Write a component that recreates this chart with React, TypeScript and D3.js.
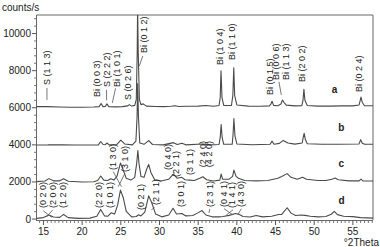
import * as d3 from 'd3';

// --- data ---
// diffractograms: [2theta, counts/s]
const curveA: [number, number][] = [
  [14.1, 6060], [15.5, 6060], [17, 6040], [18.5, 6030], [20, 6030], [21.5, 6040], [22.2, 6060], [22.45, 6230], [22.7, 6060],
  [23.0, 6070], [23.2, 6210], [23.45, 6060], [24.3, 6050], [25.2, 6060], [25.9, 6100], [26.1, 6170], [26.4, 6090], [26.8, 6130],
  [27.0, 6450], [27.12, 9000], [27.17, 11500], [27.25, 9000], [27.4, 6450], [27.6, 6170], [27.9, 6210], [28.3, 6090],
  [29.5, 6070], [30.5, 6060], [31.5, 6080], [32.0, 6110], [32.5, 6070], [33.5, 6080], [35, 6090], [36, 6120], [37, 6080],
  [37.7, 6120], [37.85, 6550], [37.95, 7990], [38.08, 6550], [38.3, 6130], [39.3, 6120], [39.48, 6650], [39.6, 8160],
  [39.72, 6650], [40.0, 6150], [41.5, 6090], [43, 6080], [44.2, 6100], [44.4, 6200], [44.55, 6350], [44.75, 6130],
  [45.3, 6110], [45.7, 6200], [45.9, 6420], [46.1, 6280], [46.4, 6140], [47.5, 6100], [48.4, 6110], [48.55, 6400],
  [48.67, 7000], [48.8, 6400], [49.1, 6120], [50.5, 6090], [52, 6090], [53.5, 6100], [55, 6100], [55.8, 6150],
  [55.95, 6400], [56.05, 6580], [56.2, 6300], [56.5, 6110], [57.6, 6110],
];
const curveB: [number, number][] = [
  [14.1, 3990], [15.6, 4000], [16, 4010], [17.5, 4000], [19, 3990], [21, 3990], [22.1, 4000], [22.4, 4180], [22.7, 4020],
  [23.0, 4010], [23.2, 4100], [23.5, 4000], [24.5, 4020], [25.0, 4250], [25.5, 4050], [26.5, 4000], [26.95, 4200],
  [27.1, 5500], [27.18, 7300], [27.28, 5500], [27.45, 4100], [28.0, 4030], [28.6, 4230], [29.1, 4020], [30.5, 4000],
  [31.8, 4120], [32.3, 4020], [32.9, 4090], [33.4, 4000], [35.5, 4050], [36.5, 4000], [37.7, 4020], [37.85, 4400],
  [37.97, 5100], [38.1, 4400], [38.3, 4030], [39.4, 4030], [39.5, 4500], [39.62, 5420], [39.75, 4500], [40, 4050],
  [42, 4010], [44.3, 4030], [44.55, 4200], [44.8, 4030], [45.5, 4080], [46, 4240], [46.6, 4100], [47.5, 4040],
  [48.45, 4100], [48.58, 4400], [48.7, 4620], [48.85, 4300], [49.1, 4060], [51, 4030], [53, 4030], [55.8, 4050],
  [56.0, 4280], [56.2, 4100], [56.5, 4030], [57.6, 4030],
];
const curveC: [number, number][] = [
  [14.1, 2020], [15.2, 2050], [15.7, 2180], [16.3, 2060], [17.1, 2060], [17.6, 2170], [18.2, 2040], [20, 2000],
  [21.5, 2010], [22.0, 2080], [22.4, 2320], [22.8, 2100], [23.3, 2080], [23.7, 2170], [24.1, 2100], [24.5, 2300],
  [24.95, 3020], [25.3, 2650], [25.7, 2200], [26.3, 2100], [26.8, 2250], [27.05, 3000], [27.2, 3700], [27.35, 3000],
  [27.6, 2300], [28.0, 2250], [28.35, 2700], [28.6, 2950], [28.9, 2500], [29.4, 2100], [30.2, 2050], [31.2, 2150],
  [31.8, 2420], [32.3, 2200], [32.9, 2250], [33.3, 2120], [33.9, 2100], [34.5, 2080], [35.2, 2200], [35.6, 2280],
  [36.1, 2120], [37, 2050], [37.8, 2100], [37.97, 2430], [38.15, 2150], [39.0, 2150], [39.45, 2300], [39.62, 2640],
  [39.9, 2300], [40.2, 2200], [41, 2080], [42.5, 2060], [44, 2080], [45.3, 2200], [45.8, 2300], [46.5, 2450],
  [47, 2250], [47.8, 2150], [48.5, 2260], [49, 2150], [50.5, 2080], [51.5, 2080], [52.3, 2150], [52.7, 2210],
  [53.1, 2120], [54.5, 2060], [55.8, 2060], [56.05, 2150], [56.3, 2060], [57.6, 2050],
];
const curveD: [number, number][] = [
  [14.1, 40], [15.0, 80], [15.7, 220], [16.3, 110], [17.1, 90], [17.6, 250], [18.2, 80], [19.5, 40], [21, 50],
  [21.9, 150], [22.4, 520], [22.9, 170], [23.3, 150], [23.75, 340], [24.2, 270], [24.6, 780], [24.95, 1560], [25.3, 1180],
  [25.7, 420], [26.4, 120], [27.0, 140], [27.3, 230], [27.6, 170], [28.1, 380], [28.6, 1250], [29.0, 880], [29.5, 270],
  [30.3, 120], [31.2, 220], [31.75, 580], [32.2, 270], [32.9, 300], [33.4, 170], [34.3, 190], [34.9, 320], [35.5, 460],
  [36.0, 220], [36.8, 120], [37.7, 120], [38.2, 140], [39.0, 200], [39.8, 300], [40.2, 270], [40.8, 140], [41.7, 110],
  [42.5, 190], [43.3, 120], [44.5, 150], [45.4, 250], [45.8, 250], [46.5, 610], [47.0, 320], [47.6, 190], [48.3, 220],
  [48.8, 200], [49.5, 150], [50.5, 120], [51.5, 140], [52.2, 260], [52.6, 420], [53.0, 240], [53.8, 150], [55, 130],
  [56, 80], [57.6, 50],
];
const curves = [curveA, curveB, curveC, curveD];

// peak labels: [text, 2theta, counts at the text's lower end]
const peakLabelsA: [string, number, number][] = [
  ['S (1 1 3)', 15.45, 7230], ['Bi (0 0 3)', 21.94, 6580], ['S (2 2 2)', 23.16, 7120], ['Bi (1 0 1)', 24.45, 7120],
  ['S (0 2 6)', 25.95, 6420], ['Bi (0 1 2)', 27.97, 8950], ['Bi (1 0 4)', 37.78, 8300], ['Bi (1 1 0)', 39.42, 8570],
  ['Bi (0 1 5)', 44.24, 6690], ['Bi (0 0 6)', 45.1, 7500], ['Bi (1 1 3)', 46.3, 7500], ['Bi (2 0 2)', 48.46, 7390],
  ['Bi (0 2 4)', 55.76, 6850],
];
const peakLabelsC: [string, number, number][] = [
  ['(1 3 0)', 23.97, 2645], ['(3 1 0)', 25.58, 2540], ['(0 4 0)', 31.07, 2645], ['(2 2 1)', 32.19, 2270],
  ['(3 1 1)', 33.91, 2380], ['(2 4 0)', 35.59, 2800], ['(4 2 0)', 36.43, 2800],
];
const peakLabelsD: [string, number, number][] = [
  ['(0 2 0)', 14.97, 600], ['(2 0 0)', 16.19, 600], ['(1 2 0)', 17.48, 600], ['(2 2 0)', 22.2, 600],
  ['(1 0 1)', 23.58, 600], ['(0 2 1)', 27.59, 490], ['(2 1 1)', 29.52, 760], ['(3 0 1)', 32.75, 650],
  ['(2 3 1)', 36.56, 650], ['(0 4 1)', 38.34, 650], ['(1 4 1)', 39.42, 600], ['(4 3 0)', 40.58, 650],
];
// leader lines: [2theta1, counts1, 2theta2, counts2]
const leaders: [number, number, number, number][] = [
  [15.45, 7065, 15.45, 6420], [23.16, 6960, 23.16, 6400], [24.32, 7050, 23.9, 6260], [27.84, 8790, 27.39, 8250],
  [45.44, 7400, 45.75, 6690],
  [24.01, 2560, 25.09, 1745], [25.52, 2450, 24.66, 1745],
  [14.97, 450, 16.06, 94], [16.19, 489, 15.39, 111],
  [29.35, 650, 28.95, 480], [36.5, 540, 36.4, 330],
  [38.34, 560, 39.5, 220], [39.5, 500, 38.64, 220], [40.58, 560, 40.1, 220],
];
const seriesNames = ['a', 'b', 'c', 'd'];
const seriesNamePos: [number, number][] = [[52.63, 7010], [53.5, 4960], [53.5, 3020], [53.55, 975]];

const yTicks = [0, 2000, 4000, 6000, 8000, 10000];
const xTicks = [15, 20, 25, 30, 35, 40, 45, 50, 55];

export default function App() {
  const W = 380, H = 247;
  const x = d3.scaleLinear().domain([14.1, 57.6]).range([36.5, 373]);
  const y = d3.scaleLinear().domain([-50, 11000]).range([220, 15]);
  const line = d3.line<[number, number]>().x(d => x(d[0])).y(d => y(d[1]));

  const yMinor = d3.range(0, 11001, 400).filter(v => v % 2000 !== 0);
  const xMinor = d3.range(14.5, 57.6, 0.5).filter(v => v % 5 !== 0);
  const font = '"Liberation Sans", Arial, sans-serif';
  const ink = '#222';
  const curveColor = '#4a4a4a';

  const rotLabel = (l: [string, number, number], i: number) => (
    <text key={i} transform={`translate(${x(l[1])},${y(l[2])}) rotate(-90)`} fontSize={9}
      dominantBaseline="central" fill={ink}>{l[0]}</text>
  );

  return (
    <svg width={W} height={H} style={{ position: 'absolute', left: 0, top: 0, background: '#fff' }} fontFamily={font}>
      <defs>
        <clipPath id="plot"><rect x={36.5} y={15} width={336.5} height={205} /></clipPath>
      </defs>
      <text x={2} y={11} fontSize={10} fill={ink}>counts/s</text>

      {/* frame */}
      <line x1={36.5} x2={373} y1={15} y2={15} stroke="#999" strokeWidth={1.5} />
      <line x1={373} x2={373} y1={15} y2={220} stroke="#999" strokeWidth={1.5} />
      <line x1={36.5} x2={36.5} y1={15} y2={220.5} stroke="#666" />
      <line x1={36} x2={373} y1={220.5} y2={220.5} stroke="#666" />

      {/* y axis */}
      {yTicks.map(t => (
        <g key={t}>
          <line x1={32} x2={36.5} y1={y(t)} y2={y(t)} stroke="#555" />
          <text x={31} y={y(t)} dy="0.35em" textAnchor="end" fontSize={10} fill={ink}>{t}</text>
        </g>
      ))}
      {yMinor.map(t => <line key={t} x1={34} x2={36.5} y1={y(t)} y2={y(t)} stroke="#777" />)}

      {/* x axis */}
      {xTicks.map(t => (
        <g key={t}>
          <line x1={x(t)} x2={x(t)} y1={220.5} y2={225} stroke="#555" />
          <text x={x(t)} y={235} textAnchor="middle" fontSize={10} fill={ink}>{t}</text>
        </g>
      ))}
      {xMinor.map(t => <line key={t} x1={x(t)} x2={x(t)} y1={220.5} y2={223} stroke="#777" />)}
      <text x={379} y={246} textAnchor="end" fontSize={10} fill={ink}>°2Theta</text>

      {/* curves */}
      <g clipPath="url(#plot)">
        {curves.map((c, i) => (
          <path key={i} d={line(c) ?? ''} fill="none" stroke={curveColor} strokeWidth={1.1} strokeLinejoin="round" />
        ))}
      </g>

      {/* annotations */}
      {leaders.map((l, i) => (
        <line key={i} x1={x(l[0])} y1={y(l[1])} x2={x(l[2])} y2={y(l[3])} stroke="#555" strokeWidth={0.8} />
      ))}
      {peakLabelsA.map(rotLabel)}
      {peakLabelsC.map((l, i) => rotLabel(l, 100 + i))}
      {peakLabelsD.map((l, i) => rotLabel(l, 200 + i))}
      {seriesNames.map((n, i) => (
        <text key={n} x={x(seriesNamePos[i][0])} y={y(seriesNamePos[i][1])} dominantBaseline="central"
          textAnchor="middle" fontSize={10} fontWeight="bold" fill={ink}>{n}</text>
      ))}
    </svg>
  );
}
